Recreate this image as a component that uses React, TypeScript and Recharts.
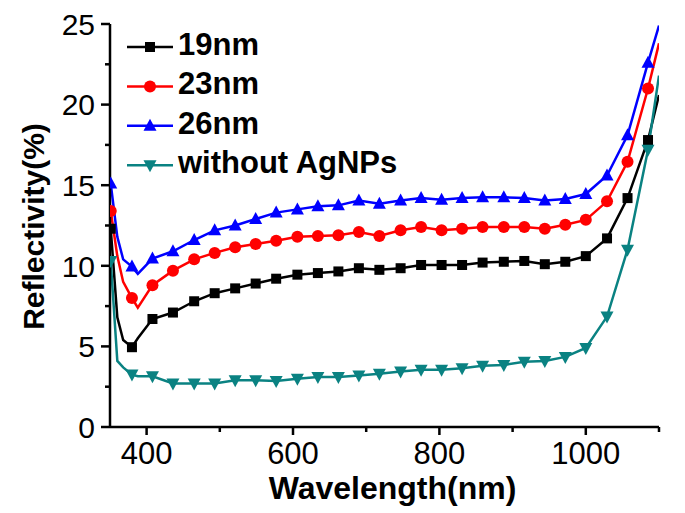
import React from 'react';
import { LineChart, Line, XAxis, YAxis, Legend } from 'recharts';

// Wavelength (nm) sample points
const wavelength = [351, 360, 368, 380, 388, 408, 436, 465, 493, 521, 549, 577, 606, 634, 662, 690, 718, 747, 775, 803, 831, 859, 888, 916, 944, 972, 1000, 1029, 1057, 1085, 1100];
// Wavelengths where a symbol is drawn
const markerWavelengths = [351, 380, 408, 436, 465, 493, 521, 549, 577, 606, 634, 662, 690, 718, 747, 775, 803, 831, 859, 888, 916, 944, 972, 1000, 1029, 1057, 1085];

const refl19 = [12.3, 6.8, 5.4, 4.95, 5.5, 6.7, 7.1, 7.8, 8.3, 8.6, 8.9, 9.2, 9.45, 9.55, 9.65, 9.85, 9.75, 9.85, 10.05, 10.05, 10.05, 10.2, 10.25, 10.3, 10.1, 10.25, 10.6, 11.7, 14.2, 17.8, 20.6];
const refl23 = [13.4, 10.6, 9.0, 8.0, 7.4, 8.8, 9.7, 10.4, 10.8, 11.15, 11.35, 11.55, 11.8, 11.85, 11.9, 12.1, 11.85, 12.2, 12.4, 12.2, 12.3, 12.4, 12.4, 12.4, 12.3, 12.55, 12.85, 14.0, 16.45, 21.0, 23.8];
const refl26 = [15.1, 11.8, 10.4, 9.95, 9.5, 10.45, 10.9, 11.6, 12.2, 12.5, 12.9, 13.3, 13.5, 13.7, 13.75, 14.05, 13.85, 14.05, 14.2, 14.1, 14.2, 14.25, 14.25, 14.2, 14.05, 14.15, 14.45, 15.6, 18.1, 22.6, 24.9];
const reflNoAg = [10.3, 4.1, 3.7, 3.25, 3.15, 3.15, 2.7, 2.7, 2.7, 2.9, 2.9, 2.85, 3.0, 3.1, 3.1, 3.2, 3.3, 3.45, 3.55, 3.55, 3.65, 3.8, 3.85, 4.05, 4.1, 4.35, 4.9, 6.85, 11.0, 17.2, 21.8];

const xTicks = [400, 500, 600, 700, 800, 900, 1000, 1100];
const xMajor = [400, 600, 800, 1000];
const yTicks = [0, 2.5, 5, 7.5, 10, 12.5, 15, 17.5, 20, 22.5, 25];
const yMajor = [0, 5, 10, 15, 20, 25];

const seriesNames = ['19nm', '23nm', '26nm', 'without AgNPs'];
const seriesKeys = ['s19', 's23', 's26', 'sNo'];
const seriesColors = ['#000000', '#ff0000', '#0000ff', '#0a8282'];
const seriesShapes = ['square', 'circle', 'triUp', 'triDown'];

const data = wavelength.map((w, i) => ({
  w,
  m: markerWavelengths.includes(w),
  s19: refl19[i],
  s23: refl23[i],
  s26: refl26[i],
  sNo: reflNoAg[i],
}));

const FONT = '"Liberation Sans", Arial, Helvetica, sans-serif';

function Marker({ shape, cx, cy, color }: { shape: string; cx: number; cy: number; color: string }) {
  if (shape === 'square') return <rect x={cx - 5} y={cy - 5} width={10} height={10} fill={color} />;
  if (shape === 'circle') return <circle cx={cx} cy={cy} r={6} fill={color} />;
  if (shape === 'triUp')
    return <polygon points={`${cx},${cy - 7} ${cx - 6.5},${cy + 5} ${cx + 6.5},${cy + 5}`} fill={color} />;
  return <polygon points={`${cx - 6.5},${cy - 5} ${cx + 6.5},${cy - 5} ${cx},${cy + 7}`} fill={color} />;
}

const makeDot = (shape: string, color: string) => (props: any) => {
  const { cx, cy, index, payload } = props;
  if (!payload || !payload.m || cx == null || cy == null) return <g key={`n-${shape}-${index}`} />;
  return (
    <g key={`d-${shape}-${index}`}>
      <Marker shape={shape} cx={cx} cy={cy} color={color} />
    </g>
  );
};

const XTick = (props: any) => {
  const { x, y, payload } = props;
  const major = xMajor.includes(payload.value);
  return (
    <g>
      <line x1={x} x2={x} y1={y} y2={y + (major ? 8 : 5)} stroke="#000" strokeWidth={2.5} />
      {major && (
        <text x={x} y={y + 37} textAnchor="middle" fontSize={31} fontFamily={FONT} fill="#000">
          {payload.value}
        </text>
      )}
    </g>
  );
};

const YTick = (props: any) => {
  const { x, y, payload } = props;
  const major = yMajor.includes(payload.value);
  return (
    <g>
      <line x1={x} x2={x - (major ? 9 : 5)} y1={y} y2={y} stroke="#000" strokeWidth={2.5} />
      {major && (
        <text x={x - 15} y={y} dy="0.36em" textAnchor="end" fontSize={30} fontFamily={FONT} fill="#000">
          {payload.value}
        </text>
      )}
    </g>
  );
};

const LegendBox = () => (
  <svg width={320} height={170} style={{ display: 'block' }}>
    {seriesNames.map((name, i) => {
      const base = 37 + 39.4 * i;
      const cy = base - 8;
      return (
        <g key={name}>
          <line x1={9} x2={55} y1={cy} y2={cy} stroke={seriesColors[i]} strokeWidth={2.5} />
          <Marker shape={seriesShapes[i]} cx={32} cy={cy} color={seriesColors[i]} />
          <text x={60} y={base} fontSize={31} fontWeight="bold" fontFamily={FONT} fill="#000">
            {name}
          </text>
        </g>
      );
    })}
  </svg>
);

export default function App() {
  return (
    <div style={{ width: 677, height: 505, background: '#fff' }}>
      <LineChart width={677} height={505} data={data} margin={{ top: 16, right: 26, bottom: 0, left: 0 }}>
        <XAxis
          dataKey="w"
          type="number"
          domain={[350, 1100]}
          ticks={xTicks}
          interval={0}
          tickSize={0}
          tickMargin={0}
          tickLine={false}
          tick={<XTick />}
          height={86}
          axisLine={{ stroke: '#000', strokeWidth: 2.5 }}
          allowDataOverflow
          label={{
            content: (p: any) => {
              const vb = p.viewBox || { x: 102, width: 549, y: 419 };
              return (
                <text
                  x={vb.x + vb.width / 2 + 8}
                  y={vb.y + 72}
                  textAnchor="middle"
                  fontSize={32}
                  fontWeight="bold"
                  fontFamily={FONT}
                  fill="#000"
                >
                  Wavelength(nm)
                </text>
              );
            },
          }}
        />
        <XAxis
          xAxisId="top"
          orientation="top"
          dataKey="w"
          type="number"
          domain={[350, 1100]}
          tick={false}
          tickLine={false}
          height={0}
          axisLine={{ stroke: '#000', strokeWidth: 2.5 }}
        />
        <YAxis
          type="number"
          domain={[0, 25]}
          ticks={yTicks}
          interval={0}
          tickSize={0}
          tickMargin={0}
          tickLine={false}
          tick={<YTick />}
          width={102}
          axisLine={{ stroke: '#000', strokeWidth: 2.5 }}
          label={{
            content: () => (
              <text
                transform="translate(36, 218.5) rotate(-90)"
                textAnchor="middle"
                fontSize={30}
                fontWeight="bold"
                fontFamily={FONT}
                fill="#000"
              >
                Reflectivity(%)
              </text>
            ),
          }}
        />
        <YAxis
          yAxisId="right"
          orientation="right"
          type="number"
          domain={[0, 25]}
          tick={false}
          tickLine={false}
          width={0}
          axisLine={{ stroke: '#000', strokeWidth: 2.5 }}
        />
        <Legend
          layout="vertical"
          align="center"
          verticalAlign="middle"
          wrapperStyle={{ left: 110, top: 10, width: 320, height: 170 }}
          content={() => <LegendBox />}
        />
        {seriesKeys.map((k, i) => (
          <Line
            key={k}
            dataKey={k}
            name={seriesNames[i]}
            type="linear"
            stroke={seriesColors[i]}
            strokeWidth={2.5}
            dot={makeDot(seriesShapes[i], seriesColors[i])}
            activeDot={false}
            isAnimationActive={false}
          />
        ))}
      </LineChart>
    </div>
  );
}
